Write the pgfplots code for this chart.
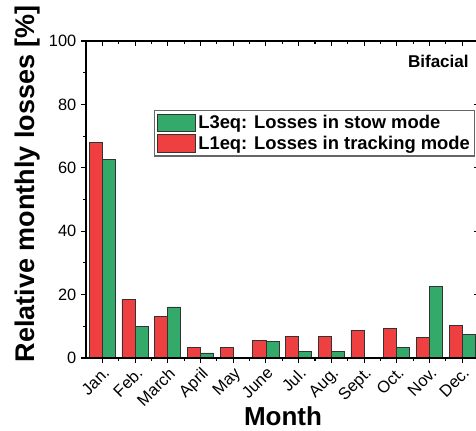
\documentclass[border=0pt]{standalone}
\usepackage{fontspec}
\setmainfont{Liberation Sans}
\usepackage{pgfplots}
\pgfplotsset{compat=1.18}
\definecolor{myred}{RGB}{238,64,64}
\definecolor{mygreen}{RGB}{52,170,106}
\begin{document}
\begin{tikzpicture}
\pgfplotsset{
  common/.style={
    width=294.4pt, height=237.75pt, scale only axis,
    at={(0,0)}, anchor=south west,
    xmin=-0.5, xmax=11.5, ymin=0, ymax=100,
    xtick={0,...,11}, ytick={0,20,...,100},
    minor x tick num=1, minor y tick num=1,
    major tick length=3.75pt, minor tick length=2.25pt,
    axis line style={black, line width=0.8pt},
    every tick/.style={black, line width=0.8pt},
  }
}
\begin{axis}[common,
  ybar, bar width=0.4,
  tick align=outside, xtick pos=bottom, ytick pos=left,
  xticklabels={Jan.,Feb.,March,April,May,June,Jul.,Aug.,Sept.,Oct.,Nov.,Dec.},
  xticklabel style={rotate=45, anchor=north east, font=\fontsize{12.4}{14}\selectfont, inner sep=1.5pt},
  yticklabel style={font=\fontsize{12.3}{14}\selectfont},
  /pgf/number format/assume math mode=true,
  xlabel={\bfseries Month},
  xlabel style={font=\fontsize{19.5}{22}\selectfont, at={(axis description cs:0.502,-0.212)}, anchor=base, inner sep=0pt},
  ylabel={\bfseries Relative monthly losses [\%]},
  ylabel style={font=\fontsize{20.25}{23}\selectfont, at={(axis description cs:-0.150,0.55)}, anchor=center, rotate=0},
  legend style={at={(axis description cs:0.174,0.782)}, anchor=north west,
    draw=black!60, line width=0.8pt, fill=white,
    font=\bfseries\fontsize{13.8}{15.5}\selectfont, inner sep=1.5pt, row sep=0pt,
    /tikz/every even column/.append style={column sep=2pt}},
  legend cell align=left,
]
\addplot[fill=mygreen, draw=black!80, line width=0.6pt, bar shift=0.2,
  legend image code/.code={\draw[fill=mygreen,draw=black!80,line width=0.6pt] (0pt,-6.6pt) rectangle (28.5pt,6.6pt);}]
  coordinates {(0,62.5) (1,9.9) (2,16.1) (3,1.6) (4,0) (5,5.1) (6,2.0) (7,2.0) (8,0) (9,3.4) (10,22.6) (11,7.3)};
\addlegendentry{L3eq: Losses in stow mode}
\addplot[fill=myred, draw=black!80, line width=0.6pt, bar shift=-0.2,
  legend image code/.code={\draw[fill=myred,draw=black!80,line width=0.6pt] (0pt,-6.6pt) rectangle (28.5pt,6.6pt);}]
  coordinates {(0,67.9) (1,18.5) (2,13.2) (3,3.2) (4,3.2) (5,5.4) (6,6.7) (7,6.7) (8,8.7) (9,9.3) (10,6.4) (11,10.3)};
\addlegendentry{L1eq: Losses in tracking mode}
\node[anchor=base east, font=\bfseries\fontsize{12.8}{15}\selectfont] at (axis description cs:0.987,0.917) {Bifacial};
\end{axis}
\begin{axis}[common,
  tick align=inside, xtick pos=top, ytick pos=right,
  xticklabels={}, yticklabels={},
]
\end{axis}
\pgfresetboundingbox
\path[use as bounding box] (-64.5pt,-54.75pt) rectangle (292.5pt,268.5pt);
\end{tikzpicture}
\end{document}
